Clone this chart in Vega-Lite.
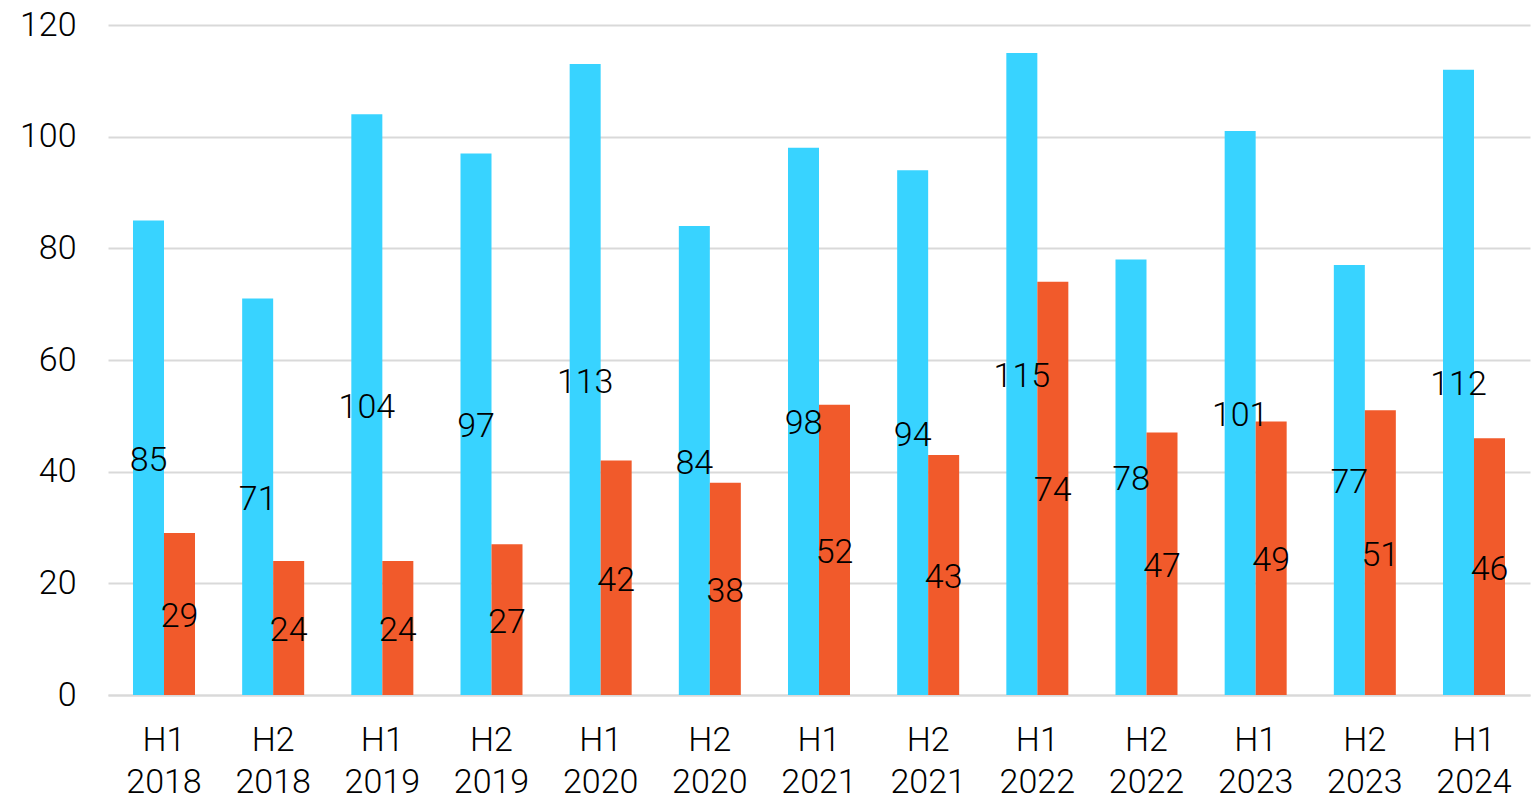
{
  "$schema": "https://vega.github.io/schema/vega-lite/v6.json",
  "width": 1422,
  "height": 670,
  "autosize": {"type": "none"},
  "padding": {"left": 108, "top": 25, "right": 9, "bottom": 104},
  "background": "white",
  "config": {
    "view": {"stroke": null},
    "font": "Roboto",
    "axis": {"labelFont": "Roboto", "labelFontWeight": 300, "labelFontSize": 34, "labelColor": "#000000"}
  },
  "data": {
    "values": [
      {"period": "H1 2018", "series": "A", "value": 85},
      {"period": "H1 2018", "series": "B", "value": 29},
      {"period": "H2 2018", "series": "A", "value": 71},
      {"period": "H2 2018", "series": "B", "value": 24},
      {"period": "H1 2019", "series": "A", "value": 104},
      {"period": "H1 2019", "series": "B", "value": 24},
      {"period": "H2 2019", "series": "A", "value": 97},
      {"period": "H2 2019", "series": "B", "value": 27},
      {"period": "H1 2020", "series": "A", "value": 113},
      {"period": "H1 2020", "series": "B", "value": 42},
      {"period": "H2 2020", "series": "A", "value": 84},
      {"period": "H2 2020", "series": "B", "value": 38},
      {"period": "H1 2021", "series": "A", "value": 98},
      {"period": "H1 2021", "series": "B", "value": 52},
      {"period": "H2 2021", "series": "A", "value": 94},
      {"period": "H2 2021", "series": "B", "value": 43},
      {"period": "H1 2022", "series": "A", "value": 115},
      {"period": "H1 2022", "series": "B", "value": 74},
      {"period": "H2 2022", "series": "A", "value": 78},
      {"period": "H2 2022", "series": "B", "value": 47},
      {"period": "H1 2023", "series": "A", "value": 101},
      {"period": "H1 2023", "series": "B", "value": 49},
      {"period": "H2 2023", "series": "A", "value": 77},
      {"period": "H2 2023", "series": "B", "value": 51},
      {"period": "H1 2024", "series": "A", "value": 112},
      {"period": "H1 2024", "series": "B", "value": 46}
    ]
  },
  "encoding": {
    "x": {
      "field": "period", "type": "nominal", "sort": null,
      "scale": {"paddingInner": 0.432, "paddingOuter": 0.229},
      "axis": {
        "title": null, "labelAngle": 0, "ticks": false,
        "labelExpr": "split(datum.label, ' ')",
        "labelLineHeight": 42, "labelPadding": 28,
        "domainColor": "#d9d9d9", "domainWidth": 2, "grid": false
      }
    },
    "xOffset": {"field": "series", "type": "nominal", "scale": {"paddingInner": 0, "paddingOuter": 0}}
  },
  "layer": [
    {
      "mark": {"type": "bar"},
      "encoding": {
        "y": {
          "field": "value", "type": "quantitative",
          "scale": {"domain": [0, 120], "nice": false},
          "axis": {
            "title": null, "values": [0, 20, 40, 60, 80, 100, 120],
            "domain": false, "ticks": false, "labelPadding": 32,
            "gridColor": "#d9d9d9", "gridWidth": 2
          }
        },
        "color": {
          "field": "series", "type": "nominal",
          "scale": {"domain": ["A", "B"], "range": ["#38D3FF", "#F15A2B"]},
          "legend": null
        }
      }
    },
    {
      "transform": [{"calculate": "datum.value / 2", "as": "mid"}],
      "mark": {"type": "text", "font": "Roboto", "fontWeight": 300, "fontSize": 34, "color": "#000000", "baseline": "middle", "align": "center", "dy": 3},
      "encoding": {
        "y": {"field": "mid", "type": "quantitative"},
        "text": {"field": "value", "type": "quantitative"}
      }
    }
  ]
}
